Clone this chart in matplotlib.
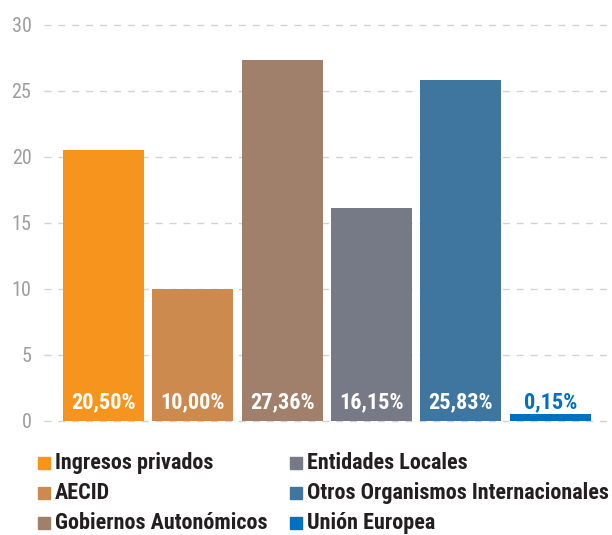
import numpy as np
import matplotlib
matplotlib.use('Agg')
import matplotlib.pyplot as plt
from matplotlib.patches import Rectangle

# data
categories = ['Ingresos privados', 'AECID', 'Gobiernos Autonómicos',
              'Entidades Locales', 'Otros Organismos Internacionales', 'Unión Europea']
values = [20.50, 10.00, 27.36, 16.15, 25.83, 0.15]
labels = ['20,50%', '10,00%', '27,36%', '16,15%', '25,83%', '0,15%']
colors = ['#f7941d', '#cd8a4e', '#a0806a', '#767a87', '#3e76a0', '#0070c0']
yticks = [0, 5, 10, 15, 20, 25, 30]

W, H = 612, 535
fig = plt.figure(figsize=(W / 100, H / 100), dpi=100)
# axes: x from 44 to 612 px, y=0 at 421 px, y=30 at 25 px
ax = fig.add_axes([44 / W, 1 - 421 / H, 1 - 44 / W, (421 - 25) / H])

font = 'Roboto Condensed'
x = np.arange(len(values))
shown = np.maximum(values, 0.5)  # tiny share still drawn as a visible strip
ax.bar(x, shown, width=0.906, color=colors, zorder=2)

ax.set_xlim(-0.666, 5.69)
ax.set_ylim(0, 30)
ax.set_yticks(yticks)
ax.set_yticklabels([str(t) for t in yticks], fontfamily=font, fontsize=14.5, color='#9d9d9d')
ax.tick_params(axis='y', length=0, pad=9)
ax.set_xticks([])
for s in ax.spines.values():
    s.set_visible(False)
for t in yticks:
    ax.axhline(t, color='#d2d2d2', lw=1, ls=(0, (5, 5)), zorder=1, clip_on=False)

for i, (v, lab) in enumerate(zip(values, labels)):
    col = 'white' if v > 2 else colors[i]
    ax.text(i, 1.4, lab, ha='center', va='center', color=col,
            fontfamily=font, fontweight='bold', fontsize=16, zorder=3)

# legend, two columns of three rows
cols_x = [38, 290]
rows_y = [463, 493, 523]
for i, (name, c) in enumerate(zip(categories, colors)):
    cx = cols_x[i // 3]
    cy = rows_y[i % 3]
    fig.patches.append(Rectangle((cx / W, 1 - (cy + 6) / H), 12 / W, 12 / H,
                                 transform=fig.transFigure, color=c, figure=fig))
    fig.text((cx + 17) / W, 1 - cy / H, name, ha='left', va='center',
             fontfamily=font, fontweight='bold', fontsize=15.9, color='#231f20')

fig.savefig('out.png', dpi=100)
